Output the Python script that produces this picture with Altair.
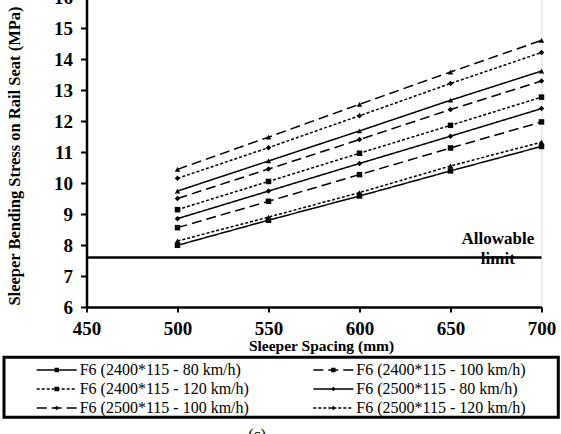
import altair as alt
import pandas as pd

# ---------------- data ----------------
spacing = [500, 550, 600, 650, 700]

series_names = [
    "F6 (2400*115 - 80 km/h)",
    "F6 (2400*115 - 100 km/h)",
    "F6 (2400*115 - 120 km/h)",
    "F6 (2500*115 - 80 km/h)",
    "F6 (2500*115 - 100 km/h)",
    "F6 (2500*115 - 120 km/h)",
    "F6 (2600*115 - 80 km/h)",
    "F6 (2600*115 - 100 km/h)",
    "F6 (2600*115 - 120 km/h)",
]

s2400_80 = [7.99, 8.80, 9.58, 10.39, 11.18]
s2400_100 = [8.56, 9.41, 10.27, 11.13, 11.97]
s2400_120 = [9.14, 10.05, 10.96, 11.86, 12.77]
s2500_80 = [8.85, 9.74, 10.63, 11.51, 12.40]
s2500_100 = [9.50, 10.45, 11.40, 12.37, 13.29]
s2500_120 = [10.15, 11.14, 12.17, 13.21, 14.21]
s2600_80 = [9.74, 10.71, 11.68, 12.67, 13.61]
s2600_100 = [10.44, 11.48, 12.54, 13.58, 14.60]
s2600_120 = [8.13, 8.90, 9.69, 10.55, 11.32]

series_values = [s2400_80, s2400_100, s2400_120,
                 s2500_80, s2500_100, s2500_120,
                 s2600_80, s2600_100, s2600_120]

legend_names = series_names[:6]
allowable_limit = 7.6
x_ticks = [450, 500, 550, 600, 650, 700]
y_ticks = [6, 7, 8, 9, 10, 11, 12, 13, 14, 15, 16]

# ---------------- tables ----------------
rows = []
for name, vals in zip(series_names, series_values):
    for s, v in zip(spacing, vals):
        rows.append({"series": name, "spacing": s, "stress": v})
df = pd.DataFrame(rows)

leg_df = pd.DataFrame({
    "series": legend_names,
    "col": [i % 2 for i in range(len(legend_names))],
    "row": [i // 2 for i in range(len(legend_names))],
})

FONT = "Liberation Serif"

dash_scale = alt.Scale(domain=series_names,
                       range=[[1, 0], [10, 5], [3, 2]] * 3)
shape_scale = alt.Scale(domain=series_names,
                        range=["square"] * 3 + ["diamond"] * 3 + ["triangle-up"] * 3)

x_axis = alt.Axis(values=x_ticks, title="Sleeper Spacing (mm)", grid=False,
                  labelFont=FONT, labelFontSize=19, labelFontWeight="bold",
                  labelColor="black", labelPadding=7, labelFlush=False,
                  labelOverlap=False,
                  tickColor="black", tickSize=5, tickWidth=2,
                  domainColor="black", domainWidth=2.5,
                  titleFont=FONT, titleFontSize=15.5, titleFontWeight="bold",
                  titleColor="black", titleX=234.5, titleY=38,
                  titleBaseline="middle", titleAlign="center")
y_axis = alt.Axis(values=y_ticks, title="Sleeper  Bending Stress on Rail Seat  (MPa)",
                  grid=False,
                  labelFont=FONT, labelFontSize=19, labelFontWeight="bold",
                  labelColor="black", labelPadding=8, labelFlush=False,
                  labelOverlap=False,
                  tickColor="black", tickSize=6, tickWidth=2,
                  domainColor="black", domainWidth=2.5,
                  titleFont=FONT, titleFontSize=16.5, titleFontWeight="bold",
                  titleColor="black", titleAngle=270, titleX=-72, titleY=158.5,
                  titleBaseline="middle", titleAlign="center")

xs = alt.Scale(domain=[450, 700], nice=False, zero=False)
ys = alt.Scale(domain=[6, 16], nice=False, zero=False)

X = alt.X("spacing:Q", scale=xs, axis=x_axis)
Y = alt.Y("stress:Q", scale=ys, axis=y_axis)

base = alt.Chart(df)
lines = base.mark_line(color="black", strokeWidth=1.5).encode(
    x=X, y=Y,
    strokeDash=alt.StrokeDash("series:N", scale=dash_scale, legend=None),
    detail="series:N",
)
points = base.mark_point(filled=True, color="black", size=30, opacity=1).encode(
    x=X, y=Y,
    shape=alt.Shape("series:N", scale=shape_scale, legend=None),
)
limit_df = pd.DataFrame({"spacing": [450, 700], "stress": [allowable_limit] * 2})
limit_rule = alt.Chart(limit_df).mark_line(
    color="black", strokeWidth=2.5).encode(x=X, y=Y)
label_df = pd.DataFrame({"spacing": [676], "stress": [8.18]})
limit_text = alt.Chart(label_df).mark_text(
    text=["Allowable", "limit"], font=FONT, fontSize=17, fontWeight="bold",
    color="black", align="center", baseline="middle", lineHeight=20,
).encode(x=X, y=Y)

main = alt.layer(lines, points, limit_rule, limit_text)

# ---------------- legend ----------------
lx = alt.X("col:Q", scale=alt.Scale(domain=[0, 1], range=[-49.8, 226.8],
                                    nice=False, zero=False), axis=None)
ly = alt.Y("row:Q", scale=alt.Scale(domain=[0, 2], range=[373, 411],
                                    nice=False, zero=False), axis=None)
lbase = alt.Chart(leg_df)
leg_box = alt.Chart(pd.DataFrame({"a": [0]})).mark_rect(
    fillOpacity=0, stroke="black", strokeWidth=3).encode(
    x=alt.value(-82.5), x2=alt.value(471.8),
    y=alt.value(360.3), y2=alt.value(420.3))
leg_rule = lbase.mark_rule(color="black", strokeWidth=1.5, x2Offset=40).encode(
    x=lx, x2=alt.X2("col:Q"), y=ly,
    strokeDash=alt.StrokeDash("series:N", scale=dash_scale, legend=None),
)
leg_pts = lbase.mark_point(filled=True, color="black", size=20, opacity=1,
                           xOffset=20).encode(
    x=lx, y=ly,
    shape=alt.Shape("series:N", scale=shape_scale, legend=None),
)
leg_text = lbase.mark_text(align="left", baseline="middle", xOffset=43,
                           font=FONT, fontSize=16, color="black").encode(
    x=lx, y=ly, text="series:N")
legend = alt.layer(leg_box, leg_rule, leg_pts, leg_text)

caption = alt.Chart(pd.DataFrame({"a": [0]})).mark_text(
    text="(c)", font=FONT, fontSize=16, color="black",
    align="center", baseline="top").encode(
    x=alt.value(170.5), y=alt.value(430))

chart = alt.layer(main, legend, caption).resolve_scale(
    x="independent", y="independent"
).properties(
    width=455, height=310, autosize="none",
    padding={"left": 86.5, "top": -3, "right": 19.5, "bottom": 127},
    background="white",
).configure_view(stroke=None).configure(font=FONT)

chart.save("out.html", embed_options={"renderer": "svg", "actions": False})
